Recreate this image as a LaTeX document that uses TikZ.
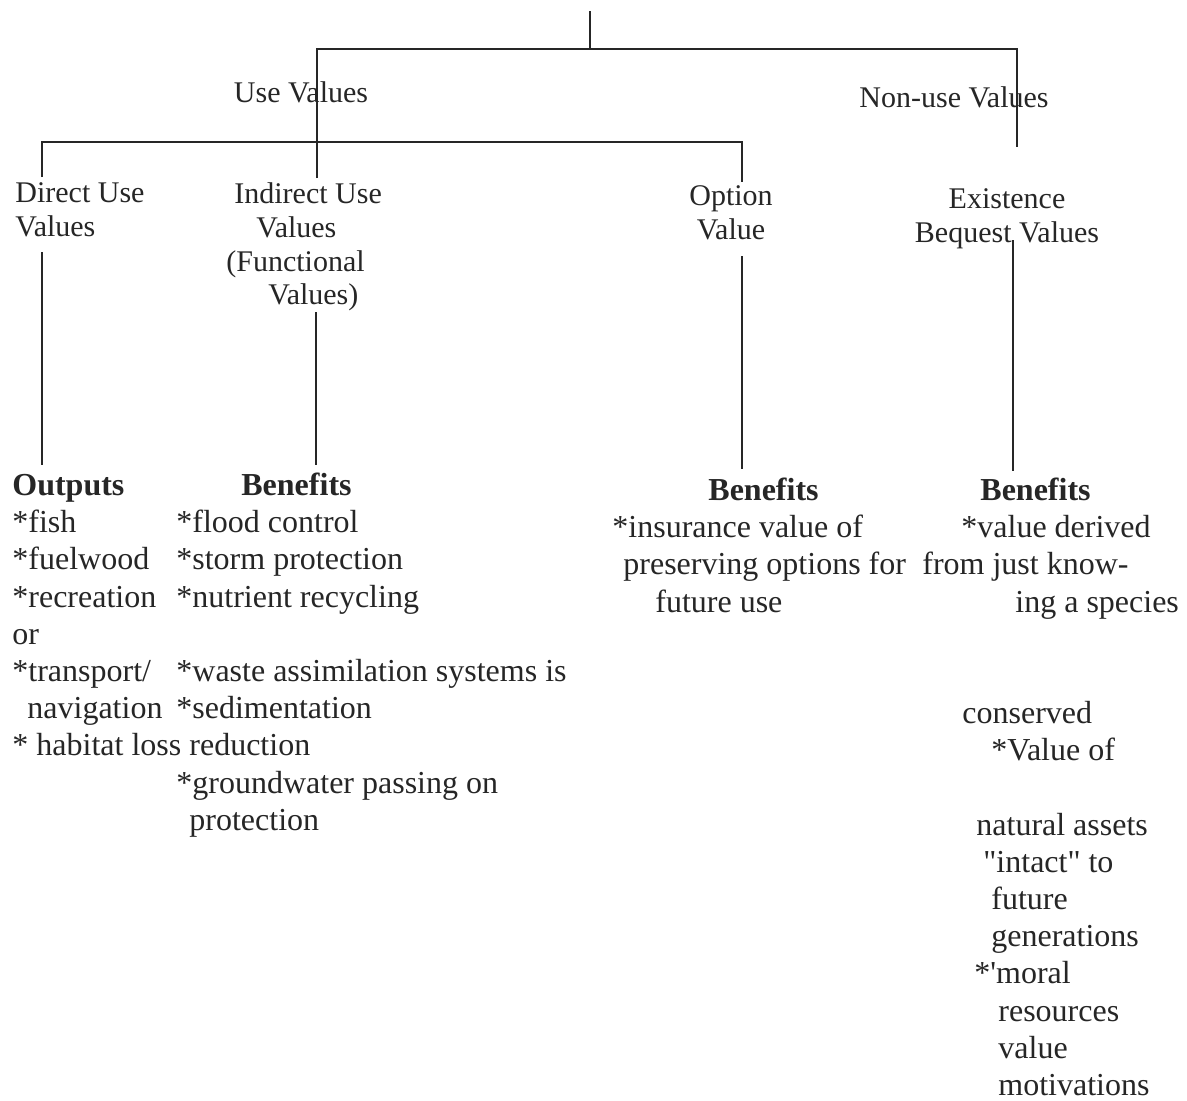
\documentclass[tikz,border=0pt]{standalone}
\usepackage{fontspec}
\setmainfont{Liberation Serif}
\usepackage{tikz}

\newcommand\hdtxt{\fontsize{15}{16.9}\selectfont}
\newcommand\listtxt{\fontsize{16}{18.6}\selectfont}

\begin{document}
\begin{tikzpicture}[x=0.5pt, y=-0.5pt,
    every node/.style={inner sep=0pt, text=black!85},
    hd/.style={font=\hdtxt, anchor=base},
    hdl/.style={font=\hdtxt, align=left, anchor=north west, yshift=11.83pt},
    hdc/.style={font=\hdtxt, align=center, anchor=north, yshift=11.83pt},
    col/.style={font=\listtxt, align=left, anchor=north west, yshift=13.02pt},
    ln/.style={line width=0.65pt, draw=black!85}]
				\useasboundingbox[fill=white] (0,0) rectangle (1187,1100);

				% value levels
				\node (usevals) at (301,102) [hd] {Use Values};
				\node (nonuse) at (954,107) [hd] {Non-use Values};
				\node (direct) at (15,202) [hdl] {\strut Direct Use\\Values};
				\node (indirect) at (226,203) [hdl] {\strut\hspace*{4pt}Indirect Use\\\hspace*{15pt}Values\\(Functional\\\hspace*{21pt}Values)};
				\node (option) at (731,205) [hdc] {\strut Option\\Value};
				\node (exist) at (1007,208) [hdc] {\strut Existence\\Bequest Values};

				% outputs and benefits
				\node (outputs) at (12,495) [col] {\strut\textbf{Outputs}\\{*}fish\\{*}fuelwood\\{*}recreation\\or\\{*}transport/\\\hspace*{7.5pt}navigation\\{*} habitat loss};
				\node (indben) at (176,495) [col] {\strut\hspace*{32.5pt}\textbf{Benefits}\\{*}flood control\\{*}storm protection\\{*}nutrient recycling\\[18.6pt]{*}waste assimilation systems is\\{*}sedimentation\\\hspace*{6.5pt}reduction\\{*}groundwater passing on\\\hspace*{6.5pt}protection};
				\node (optben) at (612,500) [col] {\strut\hspace*{48pt}\textbf{Benefits}\\{*}insurance value of\\\hspace*{5.5pt}preserving options for\\\hspace*{21.5pt}future use};
				\node (exben) at (922,500) [col] {\strut\hspace*{29pt}\textbf{Benefits}\\\hspace*{19.5pt}{*}value derived\\from just know-\\\hspace*{46.5pt}ing a species};
				\node (exmore) at (962,723) [col] {\strut conserved\\\hspace*{14.5pt}{*}Value of\\[18.6pt]\hspace*{7pt}natural assets\\\hspace*{10.5pt}\textquotedbl intact\textquotedbl{} to\\\hspace*{14.5pt}future\\\hspace*{14.5pt}generations\\\hspace*{6pt}{*}\textquotesingle moral\\\hspace*{18pt}resources\\\hspace*{18pt}value\\\hspace*{18pt}motivations};

				% line ends
				\coordinate (rtop) at (590,11);
				\coordinate (rjoin) at (590,49);
				\coordinate (usedrop) at (317,178);
				\coordinate (nonbar) at (1017,49);
				\coordinate (nonend) at (1017,147);
				\coordinate (dirdrop) at (42,177);
				\coordinate (optbar) at (742,142);
				\coordinate (optdrop) at (742,182);
				\coordinate (dirtop) at (42,252);
				\coordinate (dirbot) at (42,465);
				\coordinate (indtop) at (316,312);
				\coordinate (indbot) at (316,465);
				\coordinate (opttop) at (742,256);
				\coordinate (optbot) at (742,469);
				\coordinate (extop) at (1013,240);
				\coordinate (exbot) at (1013,471);

				\draw[ln] (rtop) -- (rjoin);
				\draw[ln] (usedrop) |- (nonbar) -- (nonend);
				\draw[ln] (dirdrop) |- (optbar) -- (optdrop);
				\draw[ln] (dirtop) -- (dirbot);
				\draw[ln] (indtop) -- (indbot);
				\draw[ln] (opttop) -- (optbot);
				\draw[ln] (extop) -- (exbot);
			\end{tikzpicture}
\end{document}
